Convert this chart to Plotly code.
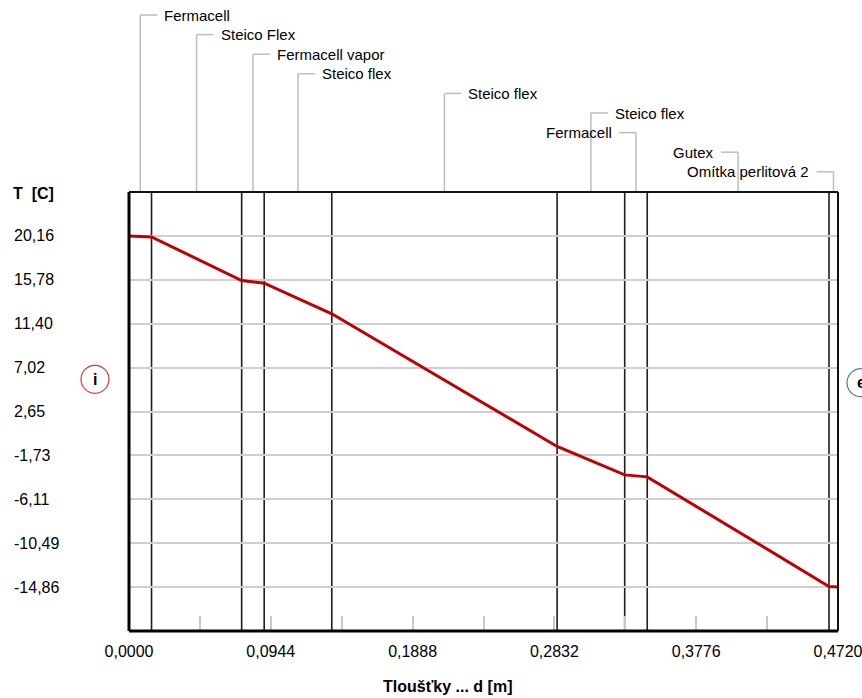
import plotly.graph_objects as go

# ---------------- data ----------------
layer_names = ["Fermacell", "Steico Flex", "Fermacell vapor", "Steico flex", "Steico flex",
               "Steico flex", "Fermacell", "Gutex", "Omítka perlitová 2"]
boundaries = [0.0, 0.015, 0.075, 0.090, 0.135, 0.285, 0.330, 0.345, 0.466, 0.472]
temp_d = [0.0, 0.015, 0.075, 0.090, 0.135, 0.285, 0.330, 0.345, 0.466, 0.472]
temp_T = [20.16, 20.06, 15.71, 15.45, 12.39, -0.84, -3.67, -3.87, -14.80, -14.86]
y_ticks = [20.16, 15.78, 11.40, 7.02, 2.65, -1.73, -6.11, -10.49, -14.86]
y_tick_labels = ["20,16", "15,78", "11,40", "7,02", "2,65", "-1,73", "-6,11", "-10,49", "-14,86"]
x_ticks = [0.0, 0.0944, 0.1888, 0.2832, 0.3776, 0.4720]
x_tick_labels = ["0,0000", "0,0944", "0,1888", "0,2832", "0,3776", "0,4720"]
x_minor_ticks = [0.0472, 0.1416, 0.2360, 0.3304, 0.4248]
label_side = [1, 1, 1, 1, 1, 1, -1, -1, -1]
y_title = "T  [C]"
x_title = "Tloušťky ... d [m]"

# ---------------- geometry ----------------
W_FIG, H_FIG = 862, 698
L, R, T, B = 129, 838, 192, 631
PW, PH = R - L, B - T
X_RANGE = [0.0, 0.472]
Y_RANGE = [-19.24, 24.54]
FONT = "Liberation Sans, Arial, sans-serif"


def px_x(X):
    return (X - L) / PW


def px_y(Y):
    return (B - Y) / PH


d_per_px = (X_RANGE[1] - X_RANGE[0]) / PW

fig = go.Figure()
fig.add_trace(go.Scatter(x=temp_d, y=temp_T, mode="lines",
                         line=dict(color="#c00000", width=3), hoverinfo="skip",
                         showlegend=False))

shapes = []
annotations = []

# layer boundary lines
for b in boundaries[1:-1]:
    shapes.append(dict(type="line", xref="x", yref="paper", x0=b, x1=b, y0=0, y1=1,
                       line=dict(color="#1e1e1e", width=1.6), layer="between"))

# layer labels with leaders
for k, name in enumerate(layer_names):
    mid = (boundaries[k] + boundaries[k + 1]) / 2
    ly = px_y(15 + 19.6 * k)
    side = label_side[k]
    shapes.append(dict(type="line", xref="x", yref="paper", x0=mid, x1=mid, y0=1, y1=ly,
                       line=dict(color="#bdbdbd", width=1.5)))
    shapes.append(dict(type="line", xref="x", yref="paper", x0=mid,
                       x1=mid + side * 17 * d_per_px, y0=ly, y1=ly,
                       line=dict(color="#bdbdbd", width=1.5)))
    annotations.append(dict(text=name, xref="x", yref="paper", x=mid, y=ly,
                            xshift=side * 22, xanchor="left" if side > 0 else "right",
                            yanchor="middle", showarrow=False,
                            font=dict(family=FONT, size=15, color="black")))

# y tick labels (left aligned)
for v, t in zip(y_ticks, y_tick_labels):
    annotations.append(dict(text=t, xref="paper", yref="y", x=px_x(12), y=v,
                            xanchor="left", yanchor="middle", showarrow=False,
                            font=dict(family=FONT, size=16, color="black")))

# axis titles
annotations.append(dict(text="<b>" + y_title + "</b>", xref="paper", yref="paper",
                        x=px_x(11), y=px_y(193), xanchor="left", yanchor="middle",
                        showarrow=False, font=dict(family=FONT, size=16, color="black")))
annotations.append(dict(text="<b>" + x_title + "</b>", xref="paper", yref="paper",
                        x=px_x(447), y=px_y(686), xanchor="center", yanchor="middle",
                        showarrow=False, font=dict(family=FONT, size=16, color="black")))

# i / e circles
for cx, cy, col, letter in [(95, 379.3, "#cc3a3a", "i"), (861, 382.7, "#3d7fc4", "e")]:
    rr = 14
    shapes.append(dict(type="circle", xref="paper", yref="paper",
                       x0=px_x(cx - rr), x1=px_x(cx + rr), y0=px_y(cy + rr), y1=px_y(cy - rr),
                       line=dict(color=col, width=1.2)))
    annotations.append(dict(text="<b>" + letter + "</b>", xref="paper", yref="paper",
                            x=px_x(cx), y=px_y(cy), xanchor="center", yanchor="middle",
                            showarrow=False, font=dict(family=FONT, size=16, color="black")))

# frame
shapes += [
    dict(type="line", xref="paper", yref="paper", x0=0, x1=0, y0=0, y1=1,
         line=dict(color="black", width=3), layer="above"),
    dict(type="line", xref="paper", yref="paper", x0=0, x1=1, y0=0, y1=0,
         line=dict(color="black", width=3), layer="above"),
    dict(type="line", xref="paper", yref="paper", x0=0, x1=1, y0=1, y1=1,
         line=dict(color="#111111", width=2), layer="above"),
    dict(type="line", xref="paper", yref="paper", x0=1, x1=1, y0=0, y1=1,
         line=dict(color="#111111", width=2), layer="above"),
]

fig.update_layout(
    width=W_FIG, height=H_FIG,
    margin=dict(l=L, r=W_FIG - R, t=T, b=H_FIG - B, autoexpand=False),
    paper_bgcolor="white", plot_bgcolor="white",
    showlegend=False,
    shapes=shapes, annotations=annotations,
    xaxis=dict(range=X_RANGE, showgrid=False, zeroline=False, showline=False,
               automargin=False,
               tickmode="array", tickvals=x_ticks, ticktext=x_tick_labels,
               ticks="inside", ticklen=15, tickwidth=1.5, tickcolor="#c8c8c8",
               ticklabelstandoff=9, ticklabeloverflow="allow",
               tickfont=dict(family=FONT, size=16, color="black"),
               minor=dict(tickmode="array", tickvals=x_minor_ticks, ticks="inside",
                          ticklen=15, tickwidth=1.5, tickcolor="#c8c8c8", showgrid=False)),
    yaxis=dict(range=Y_RANGE, showgrid=True, gridcolor="#cfcfcf", gridwidth=1.5,
               automargin=False,
               zeroline=False, showline=False, tickmode="array", tickvals=y_ticks,
               showticklabels=False, ticks=""),
)

fig.write_html("out.html")
